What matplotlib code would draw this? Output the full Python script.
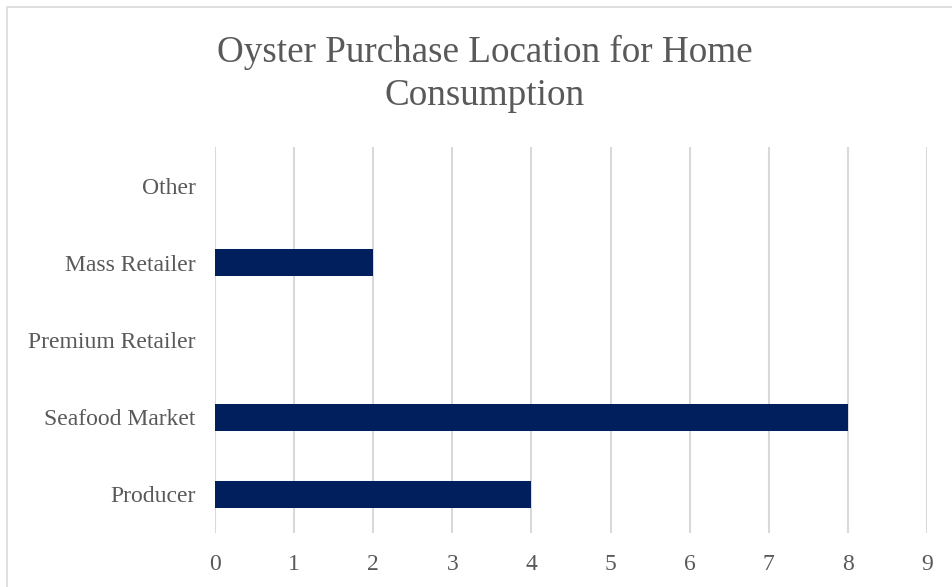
import matplotlib.pyplot as plt
from matplotlib.patches import Rectangle

categories = ['Producer', 'Seafood Market', 'Premium Retailer', 'Mass Retailer', 'Other']
counts = [4, 8, 0, 2, 0]
x_ticks = list(range(0, 10))

TEXT_GRAY = '#595959'
GRID_GRAY = '#d9d9d9'
BAR_COLOR = '#001f5c'

plt.rcParams['font.family'] = ['Liberation Serif', 'DejaVu Serif']

fig = plt.figure(figsize=(9.52, 5.87), dpi=100)

# chart area outline (runs off the right and bottom edges)
fig.patches.append(Rectangle((7 / 952, -0.05), 1.1, 1 - 7 / 587 + 0.05,
                             transform=fig.transFigure, fill=False,
                             edgecolor=GRID_GRAY, linewidth=1.2))

ax = fig.add_axes([215 / 952, 54 / 587, (927 - 215) / 952, (533 - 147) / 587])

ax.barh(range(len(categories)), counts, height=0.35, color=BAR_COLOR, zorder=3)

ax.set_xlim(0, 9)
ax.set_ylim(-0.5, len(categories) - 0.5)
ax.set_xticks(x_ticks)
ax.set_yticks(range(len(categories)))
ax.set_yticklabels(categories)

ax.grid(axis='x', color=GRID_GRAY, linewidth=1.5, zorder=0)
for spine in ax.spines.values():
    spine.set_visible(False)
ax.tick_params(axis='both', length=0, labelsize=17, labelcolor=TEXT_GRAY)
ax.tick_params(axis='x', pad=15)
ax.tick_params(axis='y', pad=14)

fig.text(485 / 952, 1 - 74 / 587, 'Oyster Purchase Location for Home\nConsumption',
         ha='center', va='center', fontsize=26.7, color=TEXT_GRAY, linespacing=1.3)

plt.savefig('out.png', dpi=100)
plt.close()
